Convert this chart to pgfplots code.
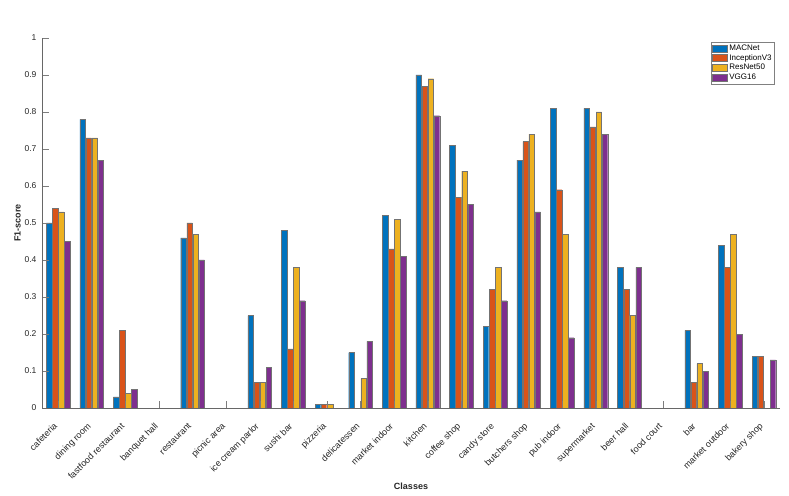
\documentclass[border=0pt]{standalone}
\usepackage{fontspec}
\setmainfont{Liberation Sans}
\usepackage{pgfplots}
\pgfplotsset{compat=1.18}
\usepackage{pgfplotstable}
\usetikzlibrary{calc}

\definecolor{mblue}{rgb}{0,0.447,0.741}
\definecolor{morange}{rgb}{0.85,0.325,0.098}
\definecolor{myellow}{rgb}{0.929,0.694,0.125}
\definecolor{mpurple}{rgb}{0.494,0.184,0.556}
\definecolor{axgray}{rgb}{0.15,0.15,0.15}

% F1-scores per class
\pgfplotstableread{
x  macnet inception resnet vgg
0  0.50 0.54 0.53 0.45
1  0.78 0.73 0.73 0.67
2  0.03 0.21 0.04 0.05
3  0    0    0    0
4  0.46 0.50 0.47 0.40
5  0    0    0    0
6  0.25 0.07 0.07 0.11
7  0.48 0.16 0.38 0.29
8  0.01 0.01 0.01 0
9  0.15 0    0.08 0.18
10 0.52 0.43 0.51 0.41
11 0.90 0.87 0.89 0.79
12 0.71 0.57 0.64 0.55
13 0.22 0.32 0.38 0.29
14 0.67 0.72 0.74 0.53
15 0.81 0.59 0.47 0.19
16 0.81 0.76 0.80 0.74
17 0.38 0.32 0.25 0.38
18 0    0    0    0
19 0.21 0.07 0.12 0.10
20 0.44 0.38 0.47 0.20
21 0.14 0.14 0    0.13
}\scores

\begin{document}
\begin{tikzpicture}
\begin{axis}[
  scale only axis,
  width=738pt, height=370pt,
  ybar, bar width=0.165,
  xmin=-0.48, xmax=21.48,
  ymin=0, ymax=1,
  axis lines*=left,
  axis line style={axgray!70, line width=0.5pt},
  axis on top,
  ytick={0,0.1,...,1.0},
  yticklabels={0,0.1,0.2,0.3,0.4,0.5,0.6,0.7,0.8,0.9,1},
  xtick=data,
  xticklabels={cafeteria, dining room, fastfood restaurant, banquet hall, restaurant, picnic area, ice cream parlor, sushi bar, pizzeria, delicatessen, market indoor, kitchen, coffee shop, candy store, butchers shop, pub indoor, supermarket, beer hall, food court, bar, market outdoor, bakery shop},
  x tick label style={xshift=-5pt, yshift=-14pt, rotate=45, anchor=north east, font=\fontsize{9}{10}\selectfont, text=axgray, inner sep=0pt},
  y tick label style={font=\fontsize{8.5}{9}\selectfont, text=axgray, xshift=-2pt},
  tick align=inside,
  major tick length=7pt,
  tick style={axgray!60, line width=0.5pt},
  /pgf/number format/assume math mode=true,
  xlabel={\bfseries Classes},
  ylabel={\bfseries F1-score},
  label style={font=\fontsize{9}{10}\selectfont, text=axgray},
  xlabel style={yshift=1pt},
  ylabel style={yshift=-3pt},
  legend style={at={(0.993,0.99)}, anchor=north east, draw=black!50, line width=0.4pt,
    font=\fontsize{8}{8.5}\selectfont, text=black, inner sep=1pt, row sep=-1.5pt,
    cells={anchor=west}},
  legend image code/.code={\draw[#1] (0pt,-3.5pt) rectangle (15pt,3.5pt);},
  legend cell align=left,
]
\addplot[fill=mblue, draw=black!55, line width=0.3pt, bar shift=-0.27] table[x=x, y=macnet] {\scores};
\addplot[fill=morange, draw=black!55, line width=0.3pt, bar shift=-0.09] table[x=x, y=inception] {\scores};
\addplot[fill=myellow, draw=black!55, line width=0.3pt, bar shift=0.09] table[x=x, y=resnet] {\scores};
\addplot[fill=mpurple, draw=black!55, line width=0.3pt, bar shift=0.27] table[x=x, y=vgg] {\scores};
\legend{MACNet, InceptionV3, ResNet50, VGG16}
\end{axis}
\useasboundingbox ($(current axis.south west)+(-42pt,-87pt)$) rectangle ($(current axis.north east)+(9pt,38pt)$);
\end{tikzpicture}
\end{document}
